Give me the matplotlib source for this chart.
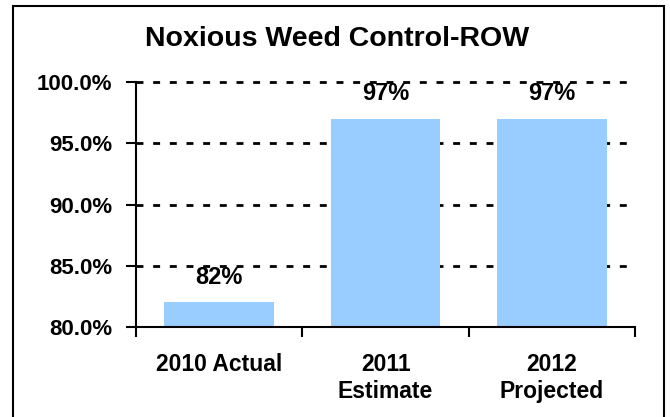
import matplotlib
matplotlib.use("Agg")
from matplotlib import pyplot as plt
from matplotlib.patches import Rectangle
import numpy as np

plt.rcParams['font.family'] = ['Liberation Sans', 'DejaVu Sans']
plt.rcParams['font.weight'] = 'bold'

categories = ["2010 Actual", "2011\nEstimate", "2012\nProjected"]
values = [82, 97, 97]
value_labels = ["82%", "97%", "97%"]
y_ticks = [80, 85, 90, 95, 100]
y_tick_labels = ["80.0%", "85.0%", "90.0%", "95.0%", "100.0%"]

fig = plt.figure(figsize=(6.7, 4.17), dpi=100)
ax = fig.add_axes([0.203, 0.216, 0.745, 0.587])

x = np.arange(len(categories))
ax.bar(x, values, width=0.66, color='#99CCFF', zorder=2)

for xi, v, lab in zip(x, values, value_labels):
    ax.annotate(lab, (xi, v), xytext=(0, 10), textcoords='offset points',
                ha='center', va='bottom', fontsize=17, fontweight='bold')

ax.set_ylim(80, 100)
ax.set_xlim(-0.5, 2.5)
ax.set_yticks(y_ticks)
ax.set_yticklabels(y_tick_labels, fontsize=16, fontweight='bold')

# category labels between boundary ticks
ax.set_xticks([-0.5, 0.5, 1.5, 2.5])
ax.set_xticklabels([])
ax.set_xticks(x, minor=True)
ax.set_xticklabels(categories, minor=True, fontsize=16.5, fontweight='bold',
                   linespacing=1.2)
ax.tick_params(axis='x', which='minor', length=0, pad=19)
ax.tick_params(axis='x', which='major', direction='out', length=7, width=1.5)
ax.tick_params(axis='y', direction='out', length=7, width=1.5, pad=10)

for y in y_ticks[1:]:
    ax.axhline(y, color='black', lw=2, linestyle=(0, (2.5, 3.5)), zorder=1,
               clip_on=False)

ax.spines['top'].set_visible(False)
ax.spines['right'].set_visible(False)
ax.spines['left'].set_linewidth(1.5)
ax.spines['bottom'].set_linewidth(1.5)

fig.text(0.503, 0.906, "Noxious Weed Control-ROW", ha='center', va='center',
         fontsize=20.5, fontweight='bold')

fig.patches.append(Rectangle((0.0194, -0.05), 0.972, 1.0356, transform=fig.transFigure,
                             fill=False, edgecolor='black', lw=1.5))

fig.savefig("out.png", dpi=100)
